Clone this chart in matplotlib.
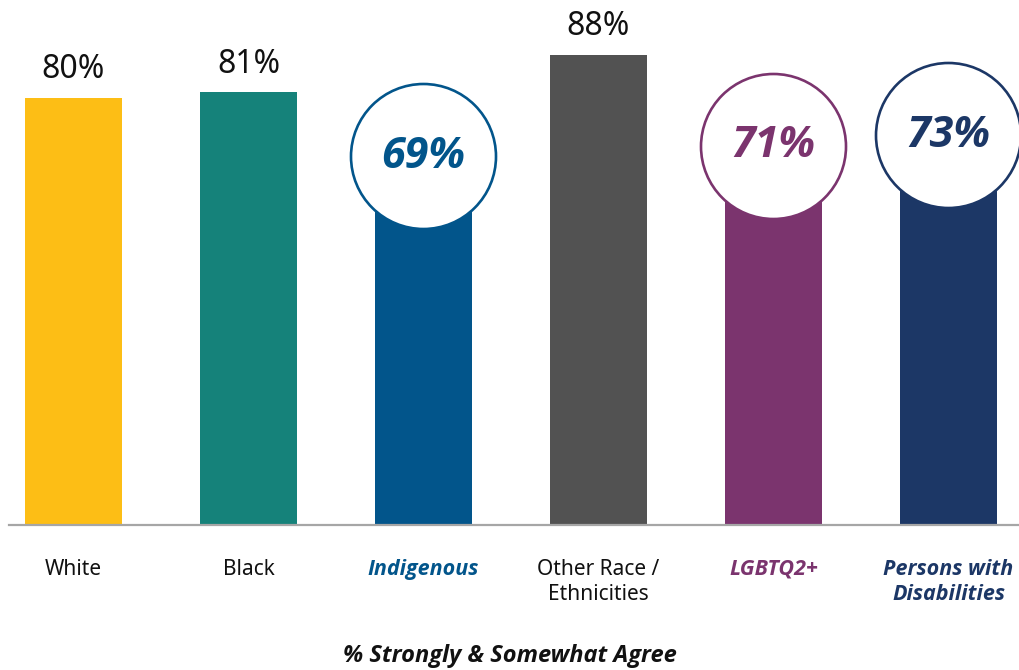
import matplotlib.pyplot as plt

plt.rcParams['font.family'] = ['Noto Sans', 'DejaVu Sans']
BOLD_ITALIC = ['Open Sans', 'Lato', 'DejaVu Sans']

categories = ['White', 'Black', 'Indigenous', 'Other Race /\nEthnicities', 'LGBTQ2+', 'Persons with\nDisabilities']
values = [80, 81, 69, 88, 71, 73]
colors = ['#FDBE15', '#15827A', '#02558B', '#525252', '#7B346E', '#1C3766']
# groups called out with a circle and bold italic label
highlight = [False, False, True, False, True, True]

fig = plt.figure(figsize=(10.19, 6.70), dpi=100)
ax = fig.add_axes([0, 145 / 670, 1, 525 / 670])

x = list(range(len(categories)))
ax.bar(x, values, width=0.555, color=colors, zorder=2)
ax.set_xlim(-0.42, 5.403)
ax.set_ylim(0, 98.3)
ax.axis('off')

# baseline
ax.plot([-0.37, 5.403], [0, 0], color='#A6A6A6', lw=1.6, clip_on=False, zorder=3)

for i, v in enumerate(values):
    if highlight[i]:
        ax.scatter(i, v, s=10900, facecolor='white', edgecolor=colors[i],
                   linewidth=1.9, zorder=4, clip_on=False)
        ax.text(i, v, f'{v}%', ha='center', va='center', fontsize=31,
                family=BOLD_ITALIC, fontweight='bold', fontstyle='italic',
                color=colors[i], zorder=5)
        ax.text(i, -6.3, categories[i], ha='center', va='top', fontsize=15.5,
                family=BOLD_ITALIC, fontweight='bold', fontstyle='italic',
                color=colors[i], linespacing=1.3)
    else:
        ax.text(i, v + 2.2, f'{v}%', ha='center', va='bottom', fontsize=23,
                color='#111111')
        ax.text(i, -6.3, categories[i], ha='center', va='top', fontsize=15,
                color='#111111', linespacing=1.25)

fig.text(0.5, 1 - 656 / 670, '% Strongly & Somewhat Agree', ha='center', va='center',
         fontsize=17, family=BOLD_ITALIC, fontweight='bold', fontstyle='italic',
         color='#111111')

fig.savefig('out.png', dpi=100)
